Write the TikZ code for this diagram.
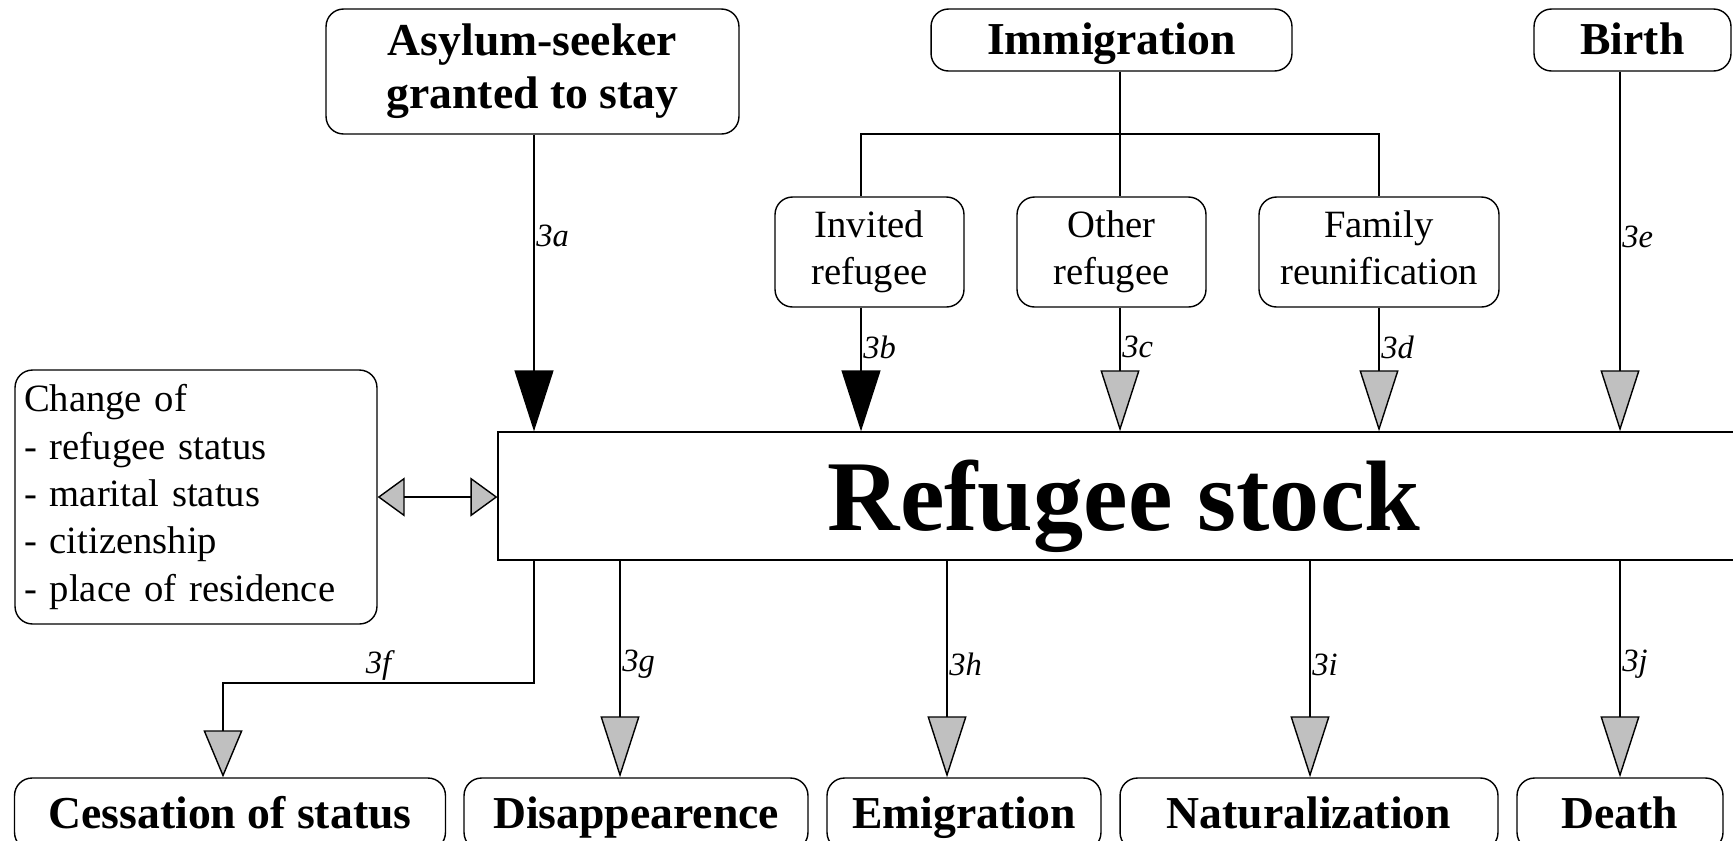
\documentclass[tikz,border=0pt]{standalone}
\usepackage{fontspec}
\setmainfont{Liberation Serif}
\usetikzlibrary{arrows.meta}
\definecolor{tipgray}{RGB}{192,192,192}
\tikzset{
    BlackHead/.tip={Triangle[length=1.22cm,width=0.78cm]},
    GrayHead/.tip={Triangle[length=1.22cm,width=0.78cm,fill=tipgray]},
    ShortHead/.tip={Triangle[length=0.94cm,width=0.78cm,fill=tipgray]},
    SideHead/.tip={Triangle[length=0.54cm,width=0.78cm,fill=tipgray]},
    box/.style={draw, rounded corners=0.35cm, align=center, inner sep=0pt},
    headbox/.style={box, font=\fontsize{26}{30}\selectfont\bfseries},
    oneline/.style={headbox, text height=0.6cm, text depth=0.04cm},
    subbox/.style={box, font=\fontsize{22}{27}\selectfont},
    flowlabel/.style={right, inner sep=1pt, font=\fontsize{18.5}{20}\selectfont\itshape},
}

\begin{document}
\begin{tikzpicture}[x=0.02cm, y=-0.02cm, line width=0.8pt]
    \useasboundingbox (0,0) rectangle (1733,840);
    \clip (0,0) rectangle (1733,840);
    % inflows
    \node[headbox, minimum width=8.26cm, minimum height=2.5cm] (asylum) at (532.5,71.5) {Asylum-seeker\\granted to stay};
    \node[oneline, minimum width=7.22cm, minimum height=1.24cm] (immig) at (1111.5,40) {Immigration};
    \node[oneline, minimum width=3.94cm, minimum height=1.24cm] (birth) at (1632.5,40) {Birth};
    \node[subbox, minimum width=3.78cm, minimum height=2.2cm] (invited) at (869.5,252) {Invited\\refugee};
    \node[subbox, minimum width=3.78cm, minimum height=2.2cm] (other) at (1111.5,252) {Other\\refugee};
    \node[subbox, minimum width=4.8cm, minimum height=2.2cm] (family) at (1379,252) {Family\\reunification\vphantom{g}};
    % stock
    \node[draw, minimum width=25.04cm, minimum height=2.56cm, text height=1.4cm, text depth=0.04cm,
        font=\fontsize{57}{60}\selectfont\bfseries] (stock) at (1124,496) {Refugee stock};
    \node[box, align=left, text width=6.88cm, inner xsep=0.18cm, minimum height=5.08cm, font=\fontsize{22}{27}\selectfont] (change) at (196,497)
        {Change of\\- refugee status\\- marital status\\- citizenship\\- place of residence};
    % outflows
    \node[oneline, minimum width=8.62cm, minimum height=1.44cm] (cess) at (230,814) {Cessation of status};
    \node[oneline, minimum width=6.88cm, minimum height=1.44cm] (disap) at (636,814) {Disappearence};
    \node[oneline, minimum width=5.48cm, minimum height=1.44cm] (emig) at (964,814) {Emigration};
    \node[oneline, minimum width=7.56cm, minimum height=1.44cm] (natur) at (1309,814) {Naturalization};
    \node[oneline, minimum width=4.12cm, minimum height=1.44cm] (death) at (1620,814) {Death};

    \coordinate (ca) at (534,0);
    \coordinate (cb) at (861,0);
    \coordinate (cc) at (1120,0);
    \coordinate (cd) at (1379,0);
    \coordinate (ce) at (1620,0);
    \coordinate (cg) at (620,0);
    \coordinate (ch) at (947,0);
    \coordinate (ci) at (1310,0);
    \coordinate (bar) at (0,134);
    \coordinate (bend) at (223,683);

    \draw (immig.south -| cc) -- (bar -| cc) -- (other.north -| cc);
    \draw (invited.north -| cb) |- (bar -| cd) -- (family.north -| cd);

    \draw[-BlackHead] (asylum.south -| ca) -- node[flowlabel, pos=0.34] (l3a) {3a} (stock.north -| ca);
    \draw[-BlackHead] (invited.south -| cb) -- node[flowlabel, pos=0.32] (l3b) {3b} (stock.north -| cb);
    \draw[-GrayHead] (other.south -| cc) -- node[flowlabel, pos=0.32] (l3c) {3c} (stock.north -| cc);
    \draw[-GrayHead] (family.south -| cd) -- node[flowlabel, pos=0.32] (l3d) {3d} (stock.north -| cd);
    \draw[-GrayHead] (birth.south -| ce) -- node[flowlabel, pos=0.46] (l3e) {3e} (stock.north -| ce);

    \draw[SideHead-SideHead] (change.east) -- (change.east -| stock.west);

    \draw[-ShortHead] (stock.south -| ca) |- node[flowlabel, above, pos=0.75] (l3f) {3f} (bend) -- (cess.north -| bend);
    \draw[-GrayHead] (stock.south -| cg) -- node[flowlabel, pos=0.48] (l3g) {3g} (disap.north -| cg);
    \draw[-GrayHead] (stock.south -| ch) -- node[flowlabel, pos=0.48] (l3h) {3h} (emig.north -| ch);
    \draw[-GrayHead] (stock.south -| ci) -- node[flowlabel, pos=0.48] (l3i) {3i} (natur.north -| ci);
    \draw[-GrayHead] (stock.south -| ce) -- node[flowlabel, pos=0.48] (l3j) {3j} (death.north -| ce);
\end{tikzpicture}
\end{document}
